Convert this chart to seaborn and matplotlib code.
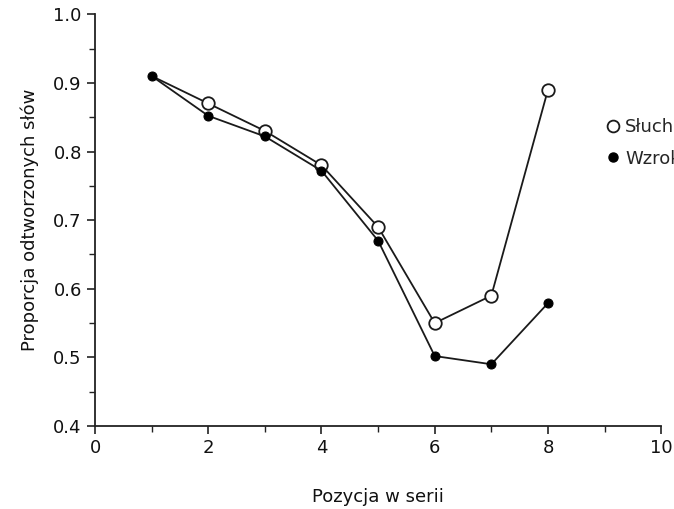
import numpy as np
import pandas as pd
import matplotlib
matplotlib.use("Agg")
import matplotlib.pyplot as plt
import seaborn as sns
from matplotlib.lines import Line2D
from matplotlib.ticker import MultipleLocator, FormatStrFormatter

pozycja = [1, 2, 3, 4, 5, 6, 7, 8]
sluch = [0.91, 0.87, 0.83, 0.78, 0.69, 0.55, 0.59, 0.89]
wzrok = [0.91, 0.852, 0.822, 0.772, 0.67, 0.502, 0.49, 0.579]

df = pd.DataFrame({"Pozycja": pozycja, "Słuch": sluch, "Wzrok": wzrok})

sns.set_theme(style="ticks")
plt.rcParams["font.family"] = ["DejaVu Sans"]

fig = plt.figure(figsize=(6.74, 5.09), dpi=100)
ax = fig.add_axes([0.141, 0.163, 0.84, 0.809])

# first open marker sits under the filled one in the original
sns.lineplot(data=df, x="Pozycja", y="Słuch", ax=ax, color="#1a1a1a", lw=1.3,
             marker="o", markersize=9, markerfacecolor="white",
             markeredgecolor="#1a1a1a", markeredgewidth=1.3,
             markevery=list(range(1, len(pozycja))), legend=False)
sns.lineplot(data=df, x="Pozycja", y="Wzrok", ax=ax, color="#1a1a1a", lw=1.3,
             marker="o", markersize=6.5, markerfacecolor="black",
             markeredgecolor="black", legend=False)

ax.set_xlim(0, 10)
ax.set_ylim(0.4, 1.0)
ax.xaxis.set_major_locator(MultipleLocator(2))
ax.xaxis.set_minor_locator(MultipleLocator(1))
ax.yaxis.set_major_locator(MultipleLocator(0.1))
ax.yaxis.set_minor_locator(MultipleLocator(0.05))
ax.yaxis.set_major_formatter(FormatStrFormatter("%.1f"))
ax.tick_params(which="major", length=6, width=1.2, labelsize=13,
               color="#222", labelcolor="#111")
ax.tick_params(which="minor", length=4, width=1.0, color="#222")
for s in ["left", "bottom"]:
    ax.spines[s].set_linewidth(1.3)
    ax.spines[s].set_color("#222")
sns.despine(ax=ax)

ax.set_xlabel("Pozycja w serii", fontsize=13, labelpad=22, color="#111")
ax.set_ylabel("Proporcja odtworzonych słów", fontsize=13, labelpad=10, color="#111")

handles = [
    Line2D([], [], ls="none", marker="o", markersize=8.5, markerfacecolor="white",
           markeredgecolor="#1a1a1a", markeredgewidth=1.3),
    Line2D([], [], ls="none", marker="o", markersize=6.5, markerfacecolor="black",
           markeredgecolor="black"),
]
ax.legend(handles, ["Słuch", "Wzrok"], loc="upper left",
          bbox_to_anchor=(0.893, 0.765), frameon=False, fontsize=13,
          handlelength=0.6, handletextpad=0.35, labelspacing=0.75,
          borderaxespad=0)

fig.savefig("out.png", dpi=100)
